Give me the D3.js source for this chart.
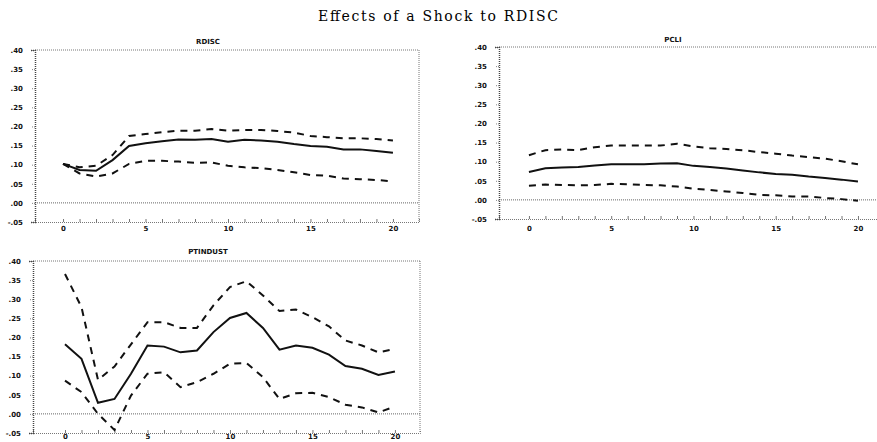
<!DOCTYPE html>
<html><head><meta charset="utf-8">
<script src="https://cdn.jsdelivr.net/npm/d3@7"></script>
<style>body{margin:0;background:#fff}svg{display:block}</style>
</head><body><svg id="c" width="877" height="442"></svg>
<script>
// ---- data ----
const steps = d3.range(0, 21);
const yTickValues = [-0.05, 0, 0.05, 0.10, 0.15, 0.20, 0.25, 0.30, 0.35, 0.40];
const yTickLabels = ["-.05", ".00", ".05", ".10", ".15", ".20", ".25", ".30", ".35", ".40"];
const xTickValues = [0, 5, 10, 15, 20];
const xTickLabels = ["0", "5", "10", "15", "20"];
const mainTitle = "Effects of a Shock to RDISC";
const panelTitles = ["RDISC", "PCLI", "PTINDUST"];

const rdiscResp  = [0.102,0.086,0.084,0.112,0.149,0.156,0.161,0.166,0.165,0.167,0.160,0.165,0.163,0.160,0.154,0.149,0.147,0.140,0.140,0.136,0.131];
const rdiscUpper = [0.102,0.093,0.097,0.125,0.175,0.180,0.185,0.189,0.189,0.193,0.189,0.191,0.191,0.188,0.184,0.175,0.172,0.169,0.169,0.167,0.163];
const rdiscLower = [0.102,0.077,0.069,0.077,0.102,0.110,0.110,0.108,0.105,0.106,0.097,0.093,0.091,0.086,0.080,0.073,0.071,0.064,0.062,0.060,0.056];

const pcliResp  = [0.073,0.083,0.085,0.086,0.090,0.093,0.093,0.093,0.095,0.096,0.089,0.086,0.082,0.077,0.072,0.068,0.066,0.061,0.057,0.053,0.048];
const pcliUpper = [0.117,0.130,0.132,0.130,0.138,0.142,0.142,0.142,0.142,0.147,0.140,0.135,0.133,0.130,0.125,0.121,0.116,0.112,0.108,0.101,0.093];
const pcliLower = [0.037,0.040,0.039,0.038,0.039,0.042,0.041,0.039,0.038,0.035,0.029,0.026,0.022,0.018,0.013,0.012,0.009,0.009,0.005,0.002,-0.002];

const ptindResp  = [0.182,0.144,0.029,0.039,0.105,0.179,0.176,0.161,0.166,0.214,0.251,0.264,0.225,0.168,0.179,0.173,0.155,0.125,0.118,0.102,0.111];
const ptindUpper = [0.366,0.279,0.089,0.124,0.182,0.240,0.240,0.225,0.225,0.284,0.332,0.347,0.310,0.269,0.273,0.253,0.229,0.192,0.179,0.161,0.170];
const ptindLower = [0.087,0.057,0.000,-0.042,0.048,0.105,0.109,0.070,0.083,0.105,0.131,0.133,0.096,0.039,0.054,0.055,0.044,0.024,0.017,0.004,0.019];

// ---- layout ----
const frames = [
  {left: 35,  right: 419, top: 50,  bottom: 222, xMin: -1.70, xMax: 21.58, titleX: 208, titleY: 44,  xLabY: 229},
  {left: 499, right: 880, top: 47,  bottom: 219, xMin: -1.82, xMax: 21.34, titleX: 673, titleY: 42,  xLabY: 229},
  {left: 33,  right: 420, top: 261, bottom: 433, xMin: -1.94, xMax: 21.52, titleX: 208, titleY: 254, xLabY: 437}
];
const series = [
  [rdiscResp, rdiscUpper, rdiscLower],
  [pcliResp, pcliUpper, pcliLower],
  [ptindResp, ptindUpper, ptindLower]
];

const svg = d3.select("#c");
svg.append("rect").attr("width", 877).attr("height", 442).attr("fill", "#fff");

svg.append("text").attr("x", 438).attr("y", 21).attr("text-anchor", "middle")
  .attr("font-family", "DejaVu Serif").attr("font-size", 14).attr("fill", "#000")
  .attr("textLength", 240).attr("lengthAdjust", "spacing")
  .text(mainTitle);

const lbl = "font-family:'DejaVu Sans';font-weight:bold;font-size:7px;fill:#111";

frames.forEach((f, i) => {
  const g = svg.append("g");
  const x = d3.scaleLinear().domain([f.xMin, f.xMax]).range([f.left, f.right]);
  const y = d3.scaleLinear().domain([-0.05, 0.40]).range([f.bottom, f.top]);

  g.append("line").attr("x1", f.left).attr("x2", f.right).attr("y1", f.top).attr("y2", f.top)
    .attr("stroke", "#777").attr("stroke-width", 1).attr("stroke-dasharray", "1,1");
  g.append("line").attr("x1", f.right).attr("x2", f.right).attr("y1", f.top).attr("y2", f.bottom)
    .attr("stroke", "#777").attr("stroke-width", 1).attr("stroke-dasharray", "1,1");
  g.append("line").attr("x1", f.left).attr("x2", f.right).attr("y1", y(0)).attr("y2", y(0))
    .attr("stroke", "#666").attr("stroke-width", 1).attr("stroke-dasharray", "1,1");

  const yAxis = d3.axisLeft(y).tickValues(yTickValues)
    .tickFormat((d, k) => yTickLabels[k]).tickSize(4).tickPadding(8);
  const ya = g.append("g").attr("transform", `translate(${f.left},0)`).call(yAxis);
  ya.select(".domain").attr("stroke", "#444").attr("stroke-width", 1.5).attr("stroke-dasharray", "1,1");
  ya.selectAll(".tick line").attr("stroke", "#888").attr("stroke-dasharray", "1,1");
  ya.selectAll(".tick text").attr("style", lbl);

  const xAxis = d3.axisBottom(x).tickValues(steps).tickSize(-3)
    .tickFormat(d => { const k = xTickValues.indexOf(d); return k >= 0 ? xTickLabels[k] : ""; })
    .tickPadding(6);
  const xa = g.append("g").attr("transform", `translate(0,${f.bottom})`).call(xAxis);
  xa.select(".domain").attr("stroke", "#777").attr("stroke-width", 1).attr("stroke-dasharray", "1,1");
  xa.selectAll(".tick line").attr("stroke", "#777");
  xa.selectAll(".tick text").attr("style", lbl).attr("y", f.xLabY - f.bottom).attr("dy", "0.35em");

  g.append("text").attr("x", f.titleX).attr("y", f.titleY).attr("text-anchor", "middle")
    .attr("style", lbl).text(panelTitles[i]);

  const line = d3.line().x((d, k) => x(steps[k])).y(d => y(d));
  const [resp, up, lo] = series[i];
  [up, lo].forEach(s => {
    g.append("path").datum(s).attr("d", line).attr("fill", "none")
      .attr("stroke", "#111").attr("stroke-width", 2).attr("stroke-dasharray", "7,6");
  });
  g.append("path").datum(resp).attr("d", line).attr("fill", "none")
    .attr("stroke", "#111").attr("stroke-width", 2);
});
</script>
</body></html>
